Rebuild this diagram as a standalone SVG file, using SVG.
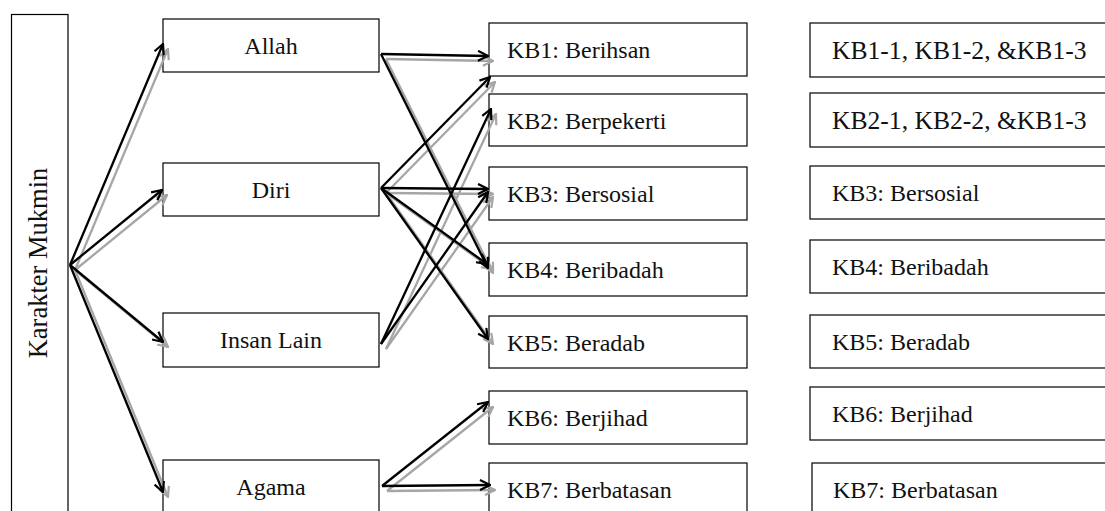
<svg xmlns="http://www.w3.org/2000/svg" width="1105" height="511" viewBox="0 0 1105 511">
<style>
.box{fill:#fff;stroke:#000;stroke-width:1.2}
.t{font-family:"Liberation Serif","Times New Roman",serif;font-size:24px;fill:#111}
.tc{text-anchor:middle}
.big{font-size:25.6px}
.vt{font-size:26.5px}
.k{stroke:#000;stroke-width:2.3;fill:none}
.g{stroke:#a6a6a6;stroke-width:2.3;fill:none}
</style>
<defs>
<marker id="ak" viewBox="0 0 12 12" refX="11" refY="6" markerWidth="12" markerHeight="12" markerUnits="userSpaceOnUse" orient="auto">
<path d="M1,1 L11,6 L1,11" fill="none" stroke="#000" stroke-width="2.2"/>
</marker>
<marker id="ag" viewBox="0 0 12 12" refX="11" refY="6" markerWidth="12" markerHeight="12" markerUnits="userSpaceOnUse" orient="auto">
<path d="M1,1 L11,6 L1,11" fill="none" stroke="#a6a6a6" stroke-width="2.2"/>
</marker>
</defs>
<rect width="1105" height="511" fill="#fff"/>

<g id="karakter-mukmin">
<rect class="box" x="11.5" y="14.5" width="56.5" height="510"/>
<text class="t tc vt" x="47" y="263" transform="rotate(-90 47 263)">Karakter Mukmin</text>
</g>

<g id="allah"><rect class="box" x="163" y="19" width="216" height="53"/><text class="t tc" x="271" y="54">Allah</text></g>
<g id="diri"><rect class="box" x="163" y="163" width="216" height="53"/><text class="t tc" x="271" y="198">Diri</text></g>
<g id="insan-lain"><rect class="box" x="163" y="313" width="216" height="54"/><text class="t tc" x="271" y="348">Insan Lain</text></g>
<g id="agama"><rect class="box" x="163" y="460" width="216" height="60"/><text class="t tc" x="271" y="495">Agama</text></g>

<g id="kb1"><rect class="box" x="489" y="23" width="258" height="53"/><text class="t" x="507" y="58">KB1: Berihsan</text></g>
<g id="kb2"><rect class="box" x="489" y="94" width="258" height="52"/><text class="t" x="507" y="129">KB2: Berpekerti</text></g>
<g id="kb3"><rect class="box" x="489" y="167" width="258" height="53"/><text class="t" x="507" y="202">KB3: Bersosial</text></g>
<g id="kb4"><rect class="box" x="489" y="243" width="258" height="53"/><text class="t" x="507" y="278">KB4: Beribadah</text></g>
<g id="kb5"><rect class="box" x="489" y="316" width="258" height="52"/><text class="t" x="507" y="351">KB5: Beradab</text></g>
<g id="kb6"><rect class="box" x="489" y="391" width="258" height="53"/><text class="t" x="507" y="426">KB6: Berjihad</text></g>
<g id="kb7"><rect class="box" x="489" y="463" width="258" height="60"/><text class="t" x="507" y="498">KB7: Berbatasan</text></g>

<g id="r1"><rect class="box" x="810" y="23" width="310" height="54"/><text class="t big" x="832" y="59">KB1-1, KB1-2, &amp;KB1-3</text></g>
<g id="r2"><rect class="box" x="810" y="93" width="310" height="54"/><text class="t big" x="832" y="129">KB2-1, KB2-2, &amp;KB1-3</text></g>
<g id="r3"><rect class="box" x="810" y="166" width="310" height="53"/><text class="t" x="832" y="201">KB3: Bersosial</text></g>
<g id="r4"><rect class="box" x="810" y="240" width="310" height="53"/><text class="t" x="832" y="275">KB4: Beribadah</text></g>
<g id="r5"><rect class="box" x="810" y="315" width="310" height="53"/><text class="t" x="832" y="350">KB5: Beradab</text></g>
<g id="r6"><rect class="box" x="810" y="387" width="310" height="53"/><text class="t" x="832" y="422">KB6: Berjihad</text></g>
<g id="r7"><rect class="box" x="812" y="463" width="310" height="60"/><text class="t" x="833" y="498">KB7: Berbatasan</text></g>

<g id="connectors">
<g transform="translate(5,5)">
<line class="g" x1="70" y1="265" x2="163" y2="44" marker-end="url(#ag)"/>
<line class="g" x1="70" y1="265" x2="162" y2="190" marker-end="url(#ag)"/>
<line class="g" x1="70" y1="265" x2="163" y2="342" marker-end="url(#ag)"/>
<line class="g" x1="70" y1="265" x2="163" y2="492" marker-end="url(#ag)"/>
<line class="g" x1="381" y1="54" x2="488" y2="56" marker-end="url(#ag)"/>
<line class="g" x1="381" y1="54" x2="488" y2="268" marker-end="url(#ag)"/>
<line class="g" x1="381" y1="188" x2="490" y2="77" marker-end="url(#ag)"/>
<line class="g" x1="381" y1="188" x2="488" y2="189" marker-end="url(#ag)"/>
<line class="g" x1="381" y1="188" x2="487" y2="264" marker-end="url(#ag)"/>
<line class="g" x1="381" y1="188" x2="488" y2="339" marker-end="url(#ag)"/>
<line class="g" x1="381" y1="344" x2="491" y2="109" marker-end="url(#ag)"/>
<line class="g" x1="381" y1="344" x2="488" y2="192" marker-end="url(#ag)"/>
<line class="g" x1="382" y1="486" x2="488" y2="402" marker-end="url(#ag)"/>
<line class="g" x1="382" y1="486" x2="490" y2="485" marker-end="url(#ag)"/>
</g>
<g>
<line class="k" x1="70" y1="265" x2="163" y2="44" marker-end="url(#ak)"/>
<line class="k" x1="70" y1="265" x2="162" y2="190" marker-end="url(#ak)"/>
<line class="k" x1="70" y1="265" x2="163" y2="342" marker-end="url(#ak)"/>
<line class="k" x1="70" y1="265" x2="163" y2="492" marker-end="url(#ak)"/>
<line class="k" x1="381" y1="54" x2="488" y2="56" marker-end="url(#ak)"/>
<line class="k" x1="381" y1="54" x2="488" y2="268" marker-end="url(#ak)"/>
<line class="k" x1="381" y1="188" x2="490" y2="77" marker-end="url(#ak)"/>
<line class="k" x1="381" y1="188" x2="488" y2="189" marker-end="url(#ak)"/>
<line class="k" x1="381" y1="188" x2="487" y2="264" marker-end="url(#ak)"/>
<line class="k" x1="381" y1="188" x2="488" y2="339" marker-end="url(#ak)"/>
<line class="k" x1="381" y1="344" x2="491" y2="109" marker-end="url(#ak)"/>
<line class="k" x1="381" y1="344" x2="488" y2="192" marker-end="url(#ak)"/>
<line class="k" x1="382" y1="486" x2="488" y2="402" marker-end="url(#ak)"/>
<line class="k" x1="382" y1="486" x2="490" y2="485" marker-end="url(#ak)"/>
</g>
</g>
</svg>
